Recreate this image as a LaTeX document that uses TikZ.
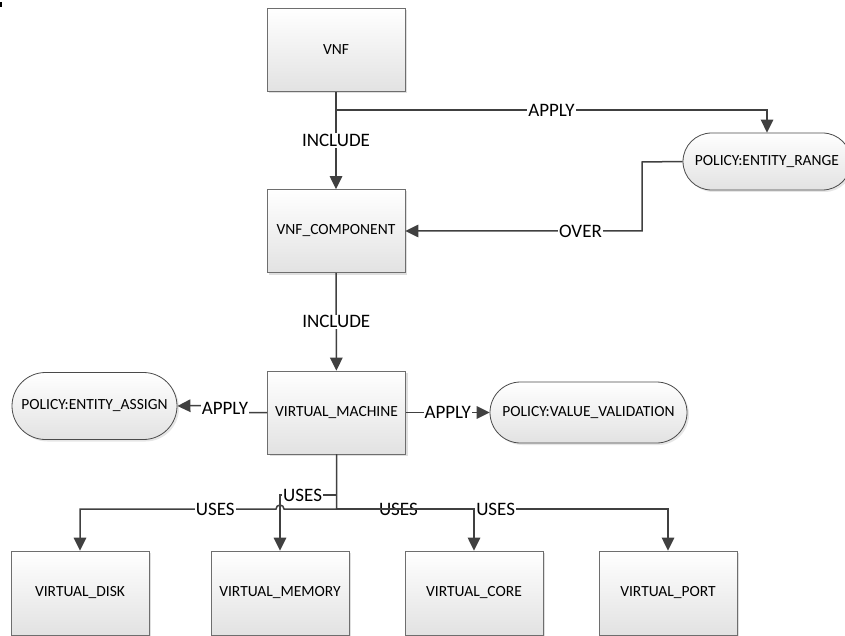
\documentclass[tikz,border=0pt]{standalone}
\usepackage{fontspec}
\setmainfont{Carlito}
\usetikzlibrary{arrows.meta,shadows,shapes.misc}
\definecolor{linegray}{HTML}{404040}
\definecolor{boxedge}{HTML}{6E6E6E}
\definecolor{policyedge}{HTML}{4A4A4A}
\definecolor{fillbottom}{HTML}{E2E2E2}
\begin{document}
\begin{tikzpicture}[x=1pt,y=1pt,
  entity/.style={rectangle, draw=boxedge, line width=0.8pt,
    top color=white, bottom color=fillbottom,
    drop shadow={shadow xshift=2pt, shadow yshift=-2pt, opacity=0.25},
    minimum width=138pt, minimum height=83pt, inner sep=0pt,
    font=\fontsize{15.5}{18}\selectfont},
  policy/.style={rounded rectangle, draw=policyedge, line width=0.8pt,
    top color=white, bottom color=fillbottom,
    drop shadow={shadow xshift=2pt, shadow yshift=-2pt, opacity=0.2},
    inner sep=0pt, font=\fontsize{15.5}{18}\selectfont},
  conn/.style={draw=linegray, line width=1.5pt,
    -{Triangle[length=13pt,width=12.5pt]}},
  lbl/.style={fill=white, inner sep=1pt, text=black,
    font=\fontsize{19}{22}\selectfont}
]
\useasboundingbox (0,0) rectangle (845,-636);
\fill[black] (0,-2) rectangle (2,-7);

% upper chain
\node[entity] (vnf)  at (336,-50)    {VNF};
\node[entity] (comp) at (336,-231)   {VNF\_COMPONENT};
\node[entity] (vm)   at (336.5,-412.5) {VIRTUAL\_MACHINE};

% policies
\node[policy, minimum width=168pt, minimum height=57pt] (er) at (767,-161.5) {POLICY:ENTITY\_RANGE};
\node[policy, minimum width=165pt, minimum height=67pt] (ea) at (94.5,-406) {POLICY:ENTITY\_ASSIGN};
\node[policy, minimum width=197pt, minimum height=61pt] (vv) at (588.5,-412.5) {POLICY:VALUE\_VALIDATION};

% resources
\node[entity, minimum height=84pt] (disk) at (80,-593)  {VIRTUAL\_DISK};
\node[entity, minimum height=84pt] (mem)  at (280,-593) {VIRTUAL\_MEMORY};
\node[entity, minimum height=84pt] (core) at (474,-593) {VIRTUAL\_CORE};
\node[entity, minimum height=84pt] (port) at (668,-593) {VIRTUAL\_PORT};

% junction points
\coordinate (j1) at (336,-110);
\coordinate (j2) at (642,-162);
\coordinate (tap) at (336.5,-495);
\coordinate (bus) at (336.5,-509);

% VNF relations
\draw[conn] (vnf) -- node[lbl]{INCLUDE} (comp);
\draw[conn] (vnf.south) -- (j1) -- node[lbl]{APPLY} (j1 -| er.north) -- (er.north);
\draw[conn] (er.west) -- (j2) -- (j2 |- comp.east) -- node[lbl, pos=0.26]{OVER} (comp.east);
\draw[conn] (comp) -- node[lbl]{INCLUDE} (vm);

% VM policies
\draw[conn] (vm.west) -- (225,-412.5) -- node[lbl]{APPLY} (225,-405) -- (ea.east);
\draw[conn] (vm.east) -- node[lbl]{APPLY} (vv.west);

% VM resources
\draw[conn] (vm.south) -- (tap) -- node[lbl, pos=0.6]{USES} (tap -| mem.north) -- (mem.north);
\draw[conn] (vm.south) -- (bus) -- (284,-509) arc (0:180:4) -- node[lbl, pos=0.31]{USES} (bus -| disk.north) -- (disk.north);
\draw[conn] (vm.south) -- (bus) -- node[lbl, pos=0.45]{USES} (bus -| core.north) -- (core.north);
\draw[conn] (bus) -- node[lbl, pos=0.48]{USES} (bus -| port.north) -- (port.north);
\end{tikzpicture}
\end{document}
